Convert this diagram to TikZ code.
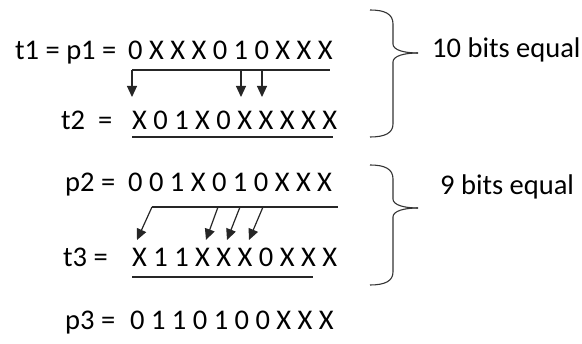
\documentclass[tikz,border=0pt]{standalone}
\usepackage{fontspec}
\setmainfont{Carlito}
\usetikzlibrary{arrows.meta}
\begin{document}
\begin{tikzpicture}[x=1pt,y=-1pt,
  txt/.style={anchor=base west,inner sep=0pt,font=\fontsize{28.5}{32}\selectfont},
  ln/.style={line width=1.2pt,black!85},
  arr/.style={line width=1.2pt,black!85,-{Triangle[length=11pt,width=10pt]}},
  brace/.style={line width=1.1pt,black!80}]
\useasboundingbox (0,0) rectangle (582,344);
% row labels
\node[txt] (l1) at (15,60) {t1 = p1 =};
\node[txt] (l2) at (61,130) {t2\ \ =};
\node[txt] (l3) at (65,192) {p2 =};
\node[txt] (l4) at (63,267) {t3 =};
\node[txt] (l5) at (65,330) {p3 =};
% bit strings
\node[txt] (b1) at (128,60) {0 X X X 0 1 0 X X X};
\node[txt] (b2) at (132,130) {X 0 1 X 0 X X X X X};
\node[txt] (b3) at (128,192) {0 0 1 X 0 1 0 X X X};
\node[txt] (b4) at (132,267) {X 1 1 X X X 0 X X X};
\node[txt] (b5) at (130,330) {0 1 1 0 1 0 0 X X X};
% row 1 arrows
\coordinate (h1a) at (132,70);
\coordinate (h1b) at (330,70);
\coordinate (h1c) at (241,70);
\coordinate (h1d) at (262,70);
\coordinate (t1a) at (132,97);
\coordinate (t1c) at (241,97);
\coordinate (t1d) at (262,97);
\draw[ln] (h1a) -- (h1b);
\draw[arr] (h1a) -- (t1a);
\draw[arr] (h1c) -- (t1c);
\draw[arr] (h1d) -- (t1d);
% underline t2
\coordinate (u2a) at (132,137);
\coordinate (u2b) at (333,137);
\draw[ln] (u2a) -- (u2b);
% row 3 arrows
\coordinate (h3a) at (152,207);
\coordinate (h3b) at (338,207);
\coordinate (h3c) at (218,207);
\coordinate (h3d) at (240,207);
\coordinate (h3e) at (263,207);
\coordinate (t3a) at (137,240);
\coordinate (t3c) at (206,240);
\coordinate (t3d) at (227,240);
\coordinate (t3e) at (249,240);
\draw[ln] (h3a) -- (h3b);
\draw[arr] (h3a) -- (t3a);
\draw[arr] (h3c) -- (t3c);
\draw[arr] (h3d) -- (t3d);
\draw[arr] (h3e) -- (t3e);
% underline t3
\coordinate (u4a) at (132,277);
\coordinate (u4b) at (313,277);
\draw[ln] (u4a) -- (u4b);
% braces
\draw[brace] (370,10) .. controls (385,10) and (393,14) .. (393,24) -- (393,44) .. controls (393,50) and (404,53) .. (418,53);
\draw[brace] (418,53) .. controls (404,53) and (393,56) .. (393,62) -- (393,124) .. controls (393,133) and (385,137) .. (370,137);
\draw[brace] (370,165) .. controls (385,165) and (393,169) .. (393,179) -- (393,199) .. controls (393,205) and (404,208) .. (418,208);
\draw[brace] (418,208) .. controls (404,208) and (393,211) .. (393,217) -- (393,272) .. controls (393,281) and (385,285) .. (370,285);
% brace labels
\node[txt] (e1) at (432,58) {10 bits equal};
\node[txt] (e2) at (440,195) {9 bits equal};
\end{tikzpicture}
\end{document}
